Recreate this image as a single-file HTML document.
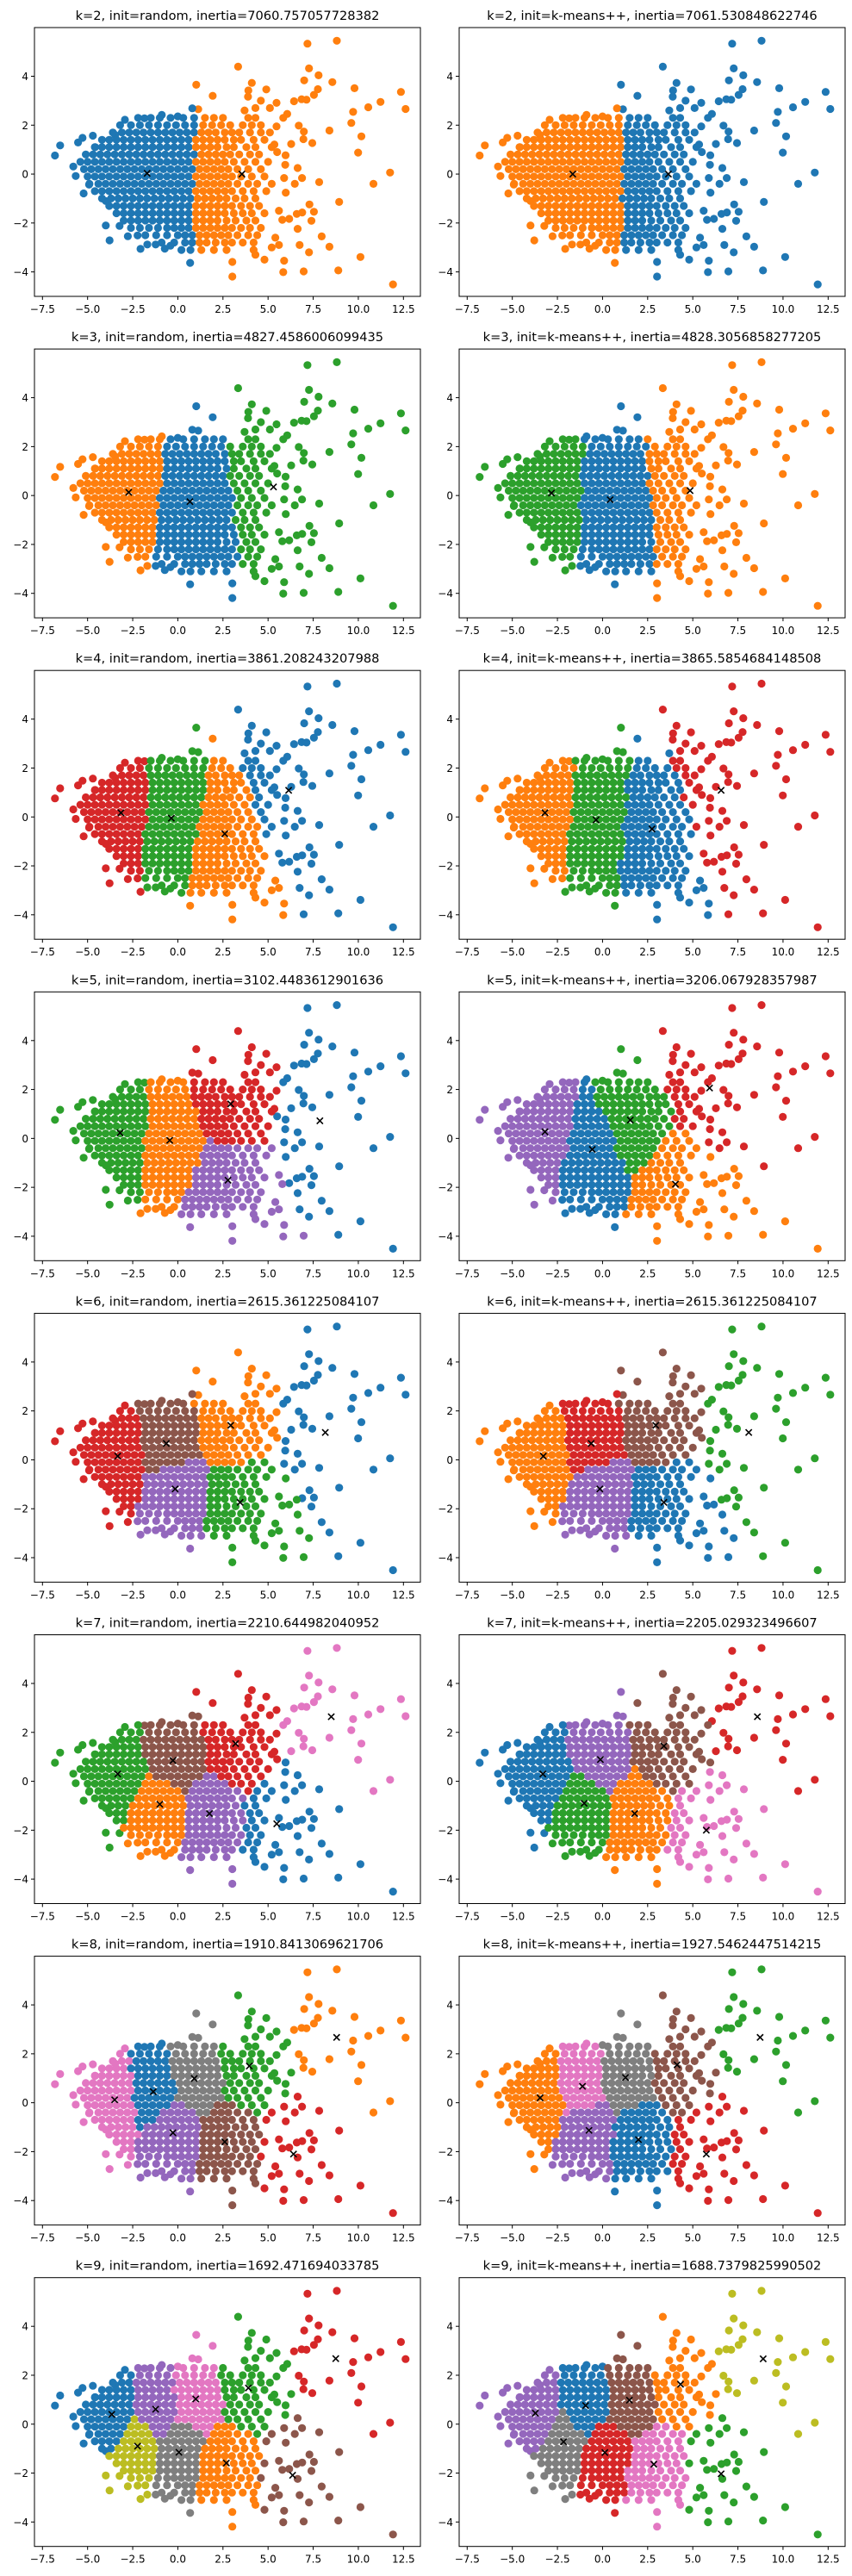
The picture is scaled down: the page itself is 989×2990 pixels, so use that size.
<!DOCTYPE html>
<html><head><meta charset="utf-8"><style>
html,body{margin:0;padding:0;background:#fff;}
svg{display:block;}
text{font-family:"DejaVu Sans","Liberation Sans",sans-serif;fill:#000;}
</style></head><body>
<svg id="fig" width="989" height="2990" viewBox="0 0 989 2990" xmlns="http://www.w3.org/2000/svg"></svg>
<script>
// ---- data ----
const outliers = [[8.81,5.45],[7.18,5.33],[3.34,4.39],[7.27,4.32],[7.8,4.04],[7.0,3.83],[8.56,3.76],[7.76,3.47],[7.54,3.24],[9.79,3.51],[12.36,3.36],[12.62,2.66],[11.23,2.95],[10.55,2.73],[9.71,2.54],[9.61,2.09],[8.4,1.78],[10.17,1.54],[9.99,0.88],[11.76,0.06],[10.84,-0.4],[8.94,-1.14],[7.83,-0.33],[6.7,1.98],[6.98,1.74],[6.96,1.43],[7.45,1.27],[6.44,2.98],[6.86,3.06],[7.13,3.04],[7.97,-2.55],[8.4,-2.97],[7.29,-1.24],[7.54,-1.54],[7.4,-1.91],[6.89,-1.57],[6.64,-2.24],[6.75,-2.9],[7.27,-3.2],[10.12,-3.39],[8.89,-3.94],[6.97,-3.98],[5.84,-4.01],[11.92,-4.51],[3.02,-4.19],[3.02,-3.59],[5.89,-3.54],[6.59,-1.63],[6.17,-1.83],[5.79,-1.87],[5.98,-0.76],[5.89,-0.16],[6.48,-0.4],[6.88,-0.16],[6.64,0.25],[5.95,0.38],[5.97,0.77],[6.28,1.23],[5.47,1.95],[6.06,2.46],[5.84,2.3],[5.35,1.21],[5.47,2.91],[4.9,3.46],[4.1,3.73],[3.91,3.42],[3.89,3.16],[1.02,3.65],[1.93,3.2],[1.13,2.65],[4.6,3.0],[4.3,2.7],[5.1,2.7],[3.7,2.6],[5.4,-2.6],[5.6,-2.9],[4.8,-3.5],[4.3,-3.3],[5.2,-3.0],[5.6,-1.5],[5.2,-0.4],[5.5,0.9],
[-6.81,0.76],[-6.52,1.17],[-5.79,0.31],[-5.66,-0.08],[-5.53,1.29],[-5.28,1.48],[-4.71,1.57],[-4.58,1.1],[-5.22,-0.79],[-4.92,-0.43],[-3.99,-1.1],[-3.99,-2.1],[-3.78,-2.71],[-3.23,-2.12],[-2.77,-2.54],[-2.23,-2.51],[-2.07,-3.06],[-1.69,-2.88],[-1.23,-2.88],[-0.72,-3.05],[-0.41,-2.93],[0.68,-3.63],[-2.93,2.22],[-1.85,2.28],[-0.89,2.42],[0.0,2.36],[0.8,2.69],[-3.47,1.6]];
const coreRows = [
[2.3,-2.2,-1.5,-1.0,-0.4,0.3,0.9,1.5,2.0,2.5,3.9,4.3],
[2.0,-3.2,-2.6,-2.1,-1.6,-1.1,-0.6,-0.1,0.4,0.9,1.4,1.9,2.4,2.9,3.6,4.1,4.6],
[1.7,-3.6,-3.1,-2.7,-2.3,-1.9,-1.5,-1.1,-0.7,-0.3,0.1,0.5,0.9,1.3,1.7,2.1,2.6,3.0,3.4,4.0,4.6,5.1],
[1.4,-4.2,-3.8,-3.4,-3.0,-2.6,-2.2,-1.8,-1.4,-1.0,-0.6,-0.2,0.2,0.6,1.0,1.4,1.8,2.2,2.6,3.1,3.5,4.2,4.8],
[1.1,-4.6,-4.2,-3.8,-3.4,-3.0,-2.6,-2.2,-1.8,-1.4,-1.0,-0.6,-0.2,0.2,0.6,1.0,1.4,1.8,2.2,2.7,3.1,3.8,4.3,5.2],
[0.8,-5.1,-4.7,-4.3,-3.9,-3.5,-3.1,-2.7,-2.3,-1.9,-1.5,-1.1,-0.7,-0.3,0.1,0.5,0.9,1.3,1.7,2.1,2.5,2.9,3.4,4.0,4.5],
[0.5,-5.4,-5.0,-4.6,-4.2,-3.8,-3.4,-3.0,-2.6,-2.2,-1.8,-1.4,-1.0,-0.6,-0.2,0.2,0.6,1.0,1.4,1.8,2.2,2.6,3.1,3.7,4.3,5.0],
[0.2,-5.2,-4.8,-4.4,-4.0,-3.6,-3.2,-2.8,-2.4,-2.0,-1.6,-1.2,-0.8,-0.4,0.0,0.4,0.8,1.2,1.6,2.0,2.4,2.8,3.3,3.9,4.6],
[-0.1,-5.0,-4.6,-4.2,-3.8,-3.4,-3.0,-2.6,-2.2,-1.8,-1.4,-1.0,-0.6,-0.2,0.2,0.6,1.0,1.4,1.8,2.2,2.6,3.0,3.5,4.1,4.8],
[-0.4,-4.9,-4.4,-4.0,-3.6,-3.2,-2.8,-2.4,-2.0,-1.6,-1.2,-0.8,-0.4,0.0,0.4,0.8,1.2,1.6,2.0,2.4,2.8,3.3,3.9,4.4],
[-0.7,-4.6,-4.2,-3.8,-3.4,-3.0,-2.6,-2.2,-1.8,-1.4,-1.0,-0.6,-0.2,0.2,0.6,1.0,1.4,1.8,2.2,2.6,3.0,3.6,4.2,4.9],
[-1.0,-4.2,-3.7,-3.3,-2.9,-2.5,-2.1,-1.7,-1.3,-0.9,-0.5,-0.1,0.3,0.7,1.1,1.5,1.9,2.3,2.7,3.2,3.7,4.3],
[-1.3,-3.8,-3.4,-3.0,-2.6,-2.2,-1.8,-1.4,-1.0,-0.6,-0.2,0.2,0.6,1.0,1.4,1.8,2.2,2.6,3.0,3.5,4.0,4.5],
[-1.6,-3.4,-3.0,-2.6,-2.2,-1.8,-1.4,-1.0,-0.6,-0.2,0.2,0.6,1.0,1.4,1.8,2.2,2.6,3.1,3.6,4.1,4.8],
[-1.9,-3.0,-2.6,-2.2,-1.8,-1.4,-1.0,-0.6,-0.2,0.2,0.6,1.0,1.4,1.8,2.2,2.7,3.2,3.8,4.3],
[-2.2,-2.6,-2.1,-1.6,-1.1,-0.6,-0.2,0.2,0.6,1.0,1.4,1.8,2.2,2.6,3.0,3.5,4.0,4.6],
[-2.5,-1.8,-1.2,-0.6,0.0,0.4,0.8,1.2,1.6,2.0,2.4,2.8,3.3,3.9,4.4],
[-2.8,-0.9,-0.2,0.4,0.8,1.2,1.6,2.1,2.6,3.0,3.6,4.2],
[-3.1,0.2,0.7,1.3,2.0,2.7,4.2]];
const titles = [
"k=2, init=random, inertia=7060.757057728382","k=2, init=k-means++, inertia=7061.530848622746",
"k=3, init=random, inertia=4827.4586006099435","k=3, init=k-means++, inertia=4828.3056858277205",
"k=4, init=random, inertia=3861.208243207988","k=4, init=k-means++, inertia=3865.5854684148508",
"k=5, init=random, inertia=3102.4483612901636","k=5, init=k-means++, inertia=3206.067928357987",
"k=6, init=random, inertia=2615.361225084107","k=6, init=k-means++, inertia=2615.361225084107",
"k=7, init=random, inertia=2210.644982040952","k=7, init=k-means++, inertia=2205.029323496607",
"k=8, init=random, inertia=1910.8413069621706","k=8, init=k-means++, inertia=1927.5462447514215",
"k=9, init=random, inertia=1692.471694033785","k=9, init=k-means++, inertia=1688.7379825990502"];
// centroids per panel: [x, y, colorIndex]
const centroids = [
[[-1.7,0.03,0],[3.55,0,1]],
[[-1.65,0,1],[3.65,0,0]],
[[-2.72,0.13,1],[0.67,-0.25,0],[5.3,0.35,2]],
[[-2.83,0.1,2],[0.42,-0.17,0],[4.85,0.2,1]],
[[-3.15,0.17,3],[-0.36,-0.05,2],[2.6,-0.69,1],[6.14,1.09,0]],
[[-3.19,0.17,1],[-0.36,-0.12,2],[2.74,-0.49,0],[6.57,1.09,3]],
[[-3.2,0.23,2],[-0.45,-0.08,1],[2.93,1.41,3],[2.78,-1.71,4],[7.87,0.72,0]],
[[-3.19,0.27,4],[-0.57,-0.45,0],[1.54,0.75,2],[4.04,-1.87,1],[5.93,2.06,3]],
[[-3.33,0.15,3],[-0.64,0.67,5],[2.93,1.41,1],[-0.15,-1.19,4],[3.45,-1.74,2],[8.17,1.12,0]],
[[-3.28,0.15,1],[-0.63,0.67,3],[2.95,1.41,5],[-0.15,-1.19,4],[3.4,-1.74,0],[8.1,1.12,2]],
[[-3.33,0.3,2],[-0.27,0.85,5],[3.2,1.54,3],[-1.0,-0.94,1],[1.75,-1.32,4],[5.48,-1.74,0],[8.5,2.64,6]],
[[-3.31,0.3,0],[-0.12,0.89,4],[3.4,1.44,5],[-1.02,-0.9,2],[1.78,-1.32,1],[5.75,-2.0,6],[8.58,2.64,3]],
[[-3.5,0.12,6],[-1.36,0.45,0],[0.91,0.99,7],[3.96,1.5,2],[-0.27,-1.23,4],[2.6,-1.6,5],[6.41,-2.1,3],[8.8,2.67,1]],
[[-3.46,0.2,1],[-1.11,0.67,6],[1.27,1.03,7],[4.13,1.55,5],[-0.75,-1.13,4],[1.99,-1.51,0],[5.75,-2.1,3],[8.73,2.67,2]],
[[-3.66,0.4,0],[-1.23,0.61,4],[0.99,1.03,6],[3.91,1.48,2],[-2.23,-0.9,8],[0.06,-1.15,7],[2.69,-1.59,1],[6.36,-2.09,5],[8.75,2.68,3]],
[[-3.72,0.45,4],[-0.94,0.76,0],[1.49,0.98,5],[4.32,1.63,1],[-2.16,-0.72,7],[0.13,-1.16,3],[2.84,-1.64,6],[6.57,-2.03,2],[8.9,2.67,8]]];
const xTicks = [-7.5,-5,-2.5,0,2.5,5,7.5,10,12.5];
const xTickLabels = ["\u22127.5","\u22125.0","\u22122.5","0.0","2.5","5.0","7.5","10.0","12.5"];
const yTicks = [-4,-2,0,2,4];
const yTickLabels = ["\u22124","\u22122","0","2","4"];
const palette = ["#1f77b4","#ff7f0e","#2ca02c","#d62728","#9467bd","#8c564b","#e377c2","#7f7f7f","#bcbd22"];

// ---- build ----
const points = outliers.slice();
coreRows.forEach(r => { for (let i = 1; i < r.length; i++) points.push([r[i], r[0]]); });
const NS = "http://www.w3.org/2000/svg";
const fig = document.getElementById("fig");
function mk(tag, attrs, parent) { const e = document.createElementNS(NS, tag); for (const k in attrs) e.setAttribute(k, attrs[k]); parent.appendChild(e); return e; }
const W = 448, H = 312, XMIN = -7.944, XMAX = 13.44, YMIN = -5.0, YMAX = 5.99;
titles.forEach((t, p) => {
  const col = p % 2, row = Math.floor(p / 2);
  const L = col ? 533 : 40, T = 32 + row * 373.1;
  const sx = x => L + (x - XMIN) / (XMAX - XMIN) * W;
  const sy = y => T + (YMAX - y) / (YMAX - YMIN) * H;
  const g = mk("g", {}, fig);
  
  
  const tt = mk("text", {x: L + W / 2, y: T - 9, "text-anchor": "middle", "font-size": "14.6"}, g);
  
  
  tt.textContent = t;
  const cs = centroids[p];
  const dots = mk("g", {}, g);
  
  
  points.forEach(pt => {
    let best = 0, bd = 1e9;
    cs.forEach((c, i) => { const d = (pt[0]-c[0])**2 + (pt[1]-c[1])**2; if (d < bd) { bd = d; best = i; } });
    const c = mk("circle", {cx: sx(pt[0]).toFixed(1), cy: sy(pt[1]).toFixed(1), r: 4.6, fill: palette[cs[best][2]]}, dots);
    
    
  });
  cs.forEach(c => {
    const x = sx(c[0]), y = sy(c[1]), s = 3.6;
    const m = mk("path", {d: `M${x-s},${y-s}L${x+s},${y+s}M${x-s},${y+s}L${x+s},${y-s}`, stroke: "#000", "stroke-width": 1.6}, g);
    
    
  });
  const frame = mk("rect", {x: L, y: T, width: W, height: H, fill: "none", stroke: "#000", "stroke-width": 1}, g);
  
  
  xTicks.forEach((v, i) => {
    const x = sx(v);
    const tk = mk("line", {x1: x, x2: x, y1: T + H, y2: T + H + 4, stroke: "#000", "stroke-width": 1}, g);
    
    
    const lb = mk("text", {x: x, y: T + H + 19, "text-anchor": "middle", "font-size": "12"}, g);
    
    
    lb.textContent = xTickLabels[i];
  });
  yTicks.forEach((v, i) => {
    const y = sy(v);
    const tk = mk("line", {x1: L - 4, x2: L, y1: y, y2: y, stroke: "#000", "stroke-width": 1}, g);
    
    
    const lb = mk("text", {x: L - 7, y: y + 4.5, "text-anchor": "end", "font-size": "12"}, g);
    
    
    lb.textContent = yTickLabels[i];
  });
});
</script>
</body></html>
